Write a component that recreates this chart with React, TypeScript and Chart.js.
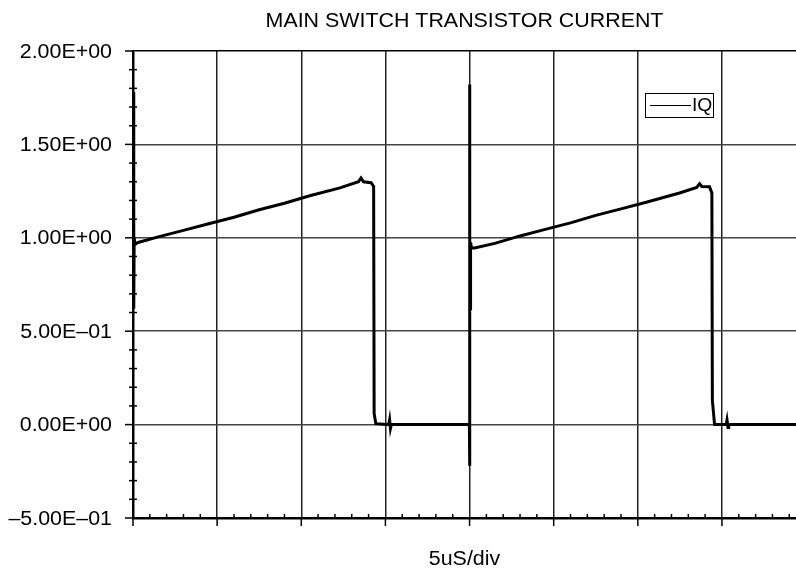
import React, { useEffect, useRef } from 'react';
import { Chart, registerables } from 'chart.js';

Chart.register(...registerables);

const chartTitle = 'MAIN SWITCH TRANSISTOR CURRENT';
const xAxisTitle = '5uS/div';
const seriesLabel = 'IQ';

// time in microseconds
const timeUs = [
  0.02, 0.04, 0.05, 0.07, 0.12, 0.3, 1.5, 3.0, 4.5, 6.0, 7.5, 9.0, 10.5, 12.3, 13.4, 13.55, 13.7, 14.15, 14.3,
  14.33, 14.43, 15.2, 15.25, 15.3, 15.35, 19.99,
  20.0, 20.01, 20.02, 20.03, 20.06, 20.12, 20.3, 21.5, 23.0, 24.5, 26.0, 27.5, 29.0, 30.5, 32.48, 33.5,
  33.67, 33.8, 34.26, 34.4, 34.43, 34.56, 35.25, 35.3, 35.36, 35.4, 39.4,
];
// current in amperes
const currentA = [
  1.0, 1.78, 0.62, 1.0, 0.965, 0.975, 1.005, 1.04, 1.075, 1.11, 1.15, 1.185, 1.225, 1.267, 1.3, 1.32, 1.3, 1.295, 1.275,
  0.06, 0.005, 0.0, 0.025, -0.02, 0.0, 0.0,
  1.82, -0.22, 1.0, 0.62, 0.975, 0.945, 0.945, 0.97, 1.01, 1.045, 1.08, 1.12, 1.155, 1.19, 1.24, 1.27,
  1.29, 1.275, 1.273, 1.24, 0.13, 0.0, 0.0, 0.025, -0.015, 0.0, 0.0,
];

const xMin = 0;
const xMax = 39.4;
const xMajorTicks = [0, 5, 10, 15, 20, 25, 30, 35];
const xMinorStep = 1;

const yMin = -0.5;
const yMax = 2.0;
const yTickValues = [-0.5, 0, 0.5, 1.0, 1.5, 2.0];
const yTickLabels = ['\u20135.00E\u201301', '0.00E+00', '5.00E\u201301', '1.00E+00', '1.50E+00', '2.00E+00'];
const yMinorStep = 0.1;

const FONT = '"Liberation Sans", Arial, Helvetica, sans-serif';
const STRETCH = 1.07;

const decorPlugin = {
  id: 'decor',
  afterDraw(chart: any) {
    const { ctx, chartArea: a, scales } = chart;
    const x = scales.x;
    const y = scales.y;
    const seg = (x1: number, y1: number, x2: number, y2: number) => {
      ctx.beginPath();
      ctx.moveTo(x1, y1);
      ctx.lineTo(x2, y2);
      ctx.stroke();
    };
    const text = (s: string, tx: number, ty: number, align: CanvasTextAlign) => {
      ctx.save();
      ctx.translate(tx, ty);
      ctx.scale(STRETCH, 1);
      ctx.textAlign = align;
      ctx.textBaseline = 'middle';
      ctx.fillText(s, 0, 0);
      ctx.restore();
    };
    ctx.save();
    ctx.strokeStyle = '#000';
    ctx.lineWidth = 1.5;
    // y major ticks (outward)
    yTickValues.forEach((v) => {
      const py = y.getPixelForValue(v);
      seg(a.left - 8, py, a.left, py);
    });
    // y minor ticks (crossing)
    const nY = Math.round((yMax - yMin) / yMinorStep);
    for (let i = 0; i <= nY; i++) {
      if (i % 5 === 0) continue;
      const py = y.getPixelForValue(yMin + i * yMinorStep);
      seg(a.left - 4, py, a.left + 4, py);
    }
    // x major ticks (outward)
    xMajorTicks.forEach((v) => {
      const px = x.getPixelForValue(v);
      seg(px, a.bottom, px, a.bottom + 8);
    });
    // x minor ticks (inward)
    const nX = Math.floor((xMax - xMin) / xMinorStep);
    for (let i = 1; i <= nX; i++) {
      if (i % 5 === 0) continue;
      const px = x.getPixelForValue(xMin + i * xMinorStep);
      seg(px, a.bottom - 4, px, a.bottom);
    }

    ctx.fillStyle = '#000';
    ctx.font = '20px ' + FONT;
    // y tick labels
    yTickValues.forEach((v, i) => {
      text(yTickLabels[i], a.left - 21, y.getPixelForValue(v) + 1, 'right');
    });
    // titles
    const cx = (a.left + a.right) / 2;
    text(chartTitle, cx, 21, 'center');
    text(xAxisTitle, cx, 559, 'center');

    // legend
    const bx = 645, by = 93, bw = 68, bh = 24;
    ctx.fillStyle = '#fff';
    ctx.fillRect(bx, by, bw, bh);
    ctx.lineWidth = 1;
    ctx.strokeStyle = '#000';
    ctx.strokeRect(bx + 0.5, by + 0.5, bw, bh);
    ctx.lineWidth = 1.2;
    seg(bx + 5, by + bh / 2 + 0.5, bx + 46, by + bh / 2 + 0.5);
    ctx.fillStyle = '#000';
    ctx.font = '18px ' + FONT;
    text(seriesLabel, bx + 47, by + bh / 2 + 1, 'left');
    ctx.restore();
  },
};

export default function App() {
  const ref = useRef<HTMLCanvasElement | null>(null);
  useEffect(() => {
    if (!ref.current) return;
    const points = timeUs.map((t, i) => ({ x: t, y: currentA[i] }));
    const chart = new Chart(ref.current, {
      type: 'line',
      data: {
        datasets: [
          {
            label: seriesLabel,
            data: points,
            borderColor: '#000',
            borderWidth: 3,
            pointRadius: 0,
            tension: 0,
            fill: false,
          },
        ],
      },
      options: {
        responsive: false,
        animation: false,
        parsing: false as any,
        layout: { padding: { top: 51, right: 0, bottom: 0, left: 0 } },
        plugins: { legend: { display: false }, title: { display: false }, tooltip: { enabled: false } },
        scales: {
          x: {
            type: 'linear',
            min: xMin,
            max: xMax,
            afterBuildTicks: (s: any) => {
              s.ticks = xMajorTicks.map((v) => ({ value: v }));
            },
            afterFit: (s: any) => {
              s.height = 55;
            },
            ticks: { display: false },
            grid: { color: '#222', lineWidth: 1.5, drawTicks: false },
            border: { display: true, color: '#000', width: 2.5 },
          },
          y: {
            type: 'linear',
            min: yMin,
            max: yMax,
            afterBuildTicks: (s: any) => {
              s.ticks = yTickValues.map((v) => ({ value: v }));
            },
            afterFit: (s: any) => {
              s.width = 133;
            },
            ticks: { display: false },
            grid: {
              color: (c: any) => (c.tick && Math.abs(c.tick.value - yMax) < 1e-6 ? '#000' : '#444'),
              lineWidth: 1.5,
              drawTicks: false,
            },
            border: { display: true, color: '#000', width: 2.5 },
          },
        },
      },
      plugins: [decorPlugin],
    });
    return () => chart.destroy();
  }, []);
  return (
    <div style={{ position: 'absolute', left: 0, top: 0, width: 796, height: 573, background: '#fff' }}>
      <canvas ref={ref} width={796} height={573} style={{ display: 'block', width: 796, height: 573 }} />
    </div>
  );
}
